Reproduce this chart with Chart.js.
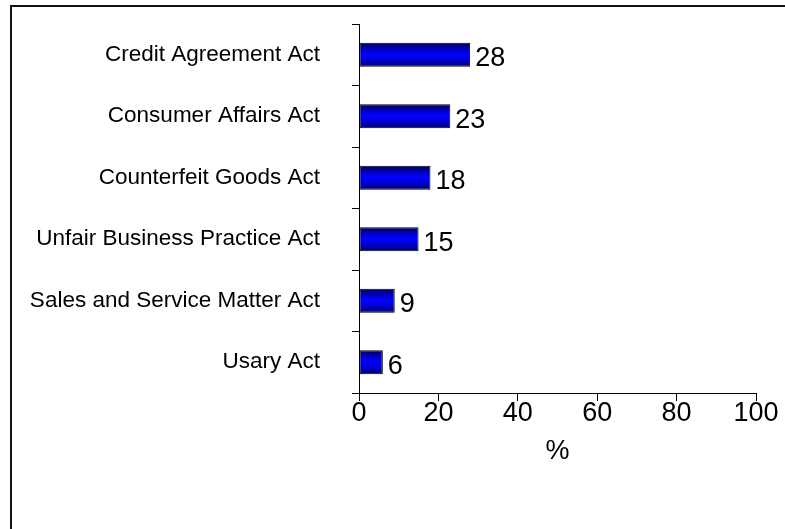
<!DOCTYPE html>
<html>
<head>
<meta charset="utf-8">
<script src="https://cdn.jsdelivr.net/npm/chart.js@4.4.1/dist/chart.umd.min.js"></script>
<style>
  html, body { margin: 0; padding: 0; background: #fff; overflow: hidden; }
  #wrap { position: relative; width: 785px; height: 529px; }
  #frame { position: absolute; left: 10px; top: 5px; width: 800px; height: 600px; border: 2px solid #111; }
  canvas { position: absolute; left: 0; top: 0; }
</style>
</head>
<body>
<div id="wrap">
  <div id="frame"></div>
  <canvas id="chart" width="785" height="529"></canvas>
</div>
<script>
const categories = ["Credit Agreement Act", "Consumer Affairs Act", "Counterfeit Goods Act", "Unfair Business Practice Act", "Sales and Service Matter Act", "Usary Act"];
const percentages = [28, 23, 18, 15, 9, 6];
const xTicks = [0, 20, 40, 60, 80, 100];

const FONT = '"Liberation Sans", Arial, sans-serif';
const barPct = 0.39;

// blue bars, dark at the edges and bright in the middle
function barFill(c) {
  const chart = c.chart;
  const area = chart.chartArea;
  const ys = chart.scales.y;
  if (!area || !ys || c.dataIndex === undefined) return '#0000ff';
  const cy = ys.getPixelForValue(c.dataIndex);
  const h = (area.bottom - area.top) / categories.length * barPct;
  const g = chart.ctx.createLinearGradient(0, cy - h / 2, 0, cy + h / 2);
  g.addColorStop(0, '#000060');
  g.addColorStop(0.45, '#0000ff');
  g.addColorStop(0.6, '#0000f0');
  g.addColorStop(1, '#000070');
  return g;
}

// numbers printed next to each bar
const valueLabels = {
  id: 'valueLabels',
  afterDatasetsDraw(chart) {
    const ctx = chart.ctx;
    const meta = chart.getDatasetMeta(0);
    ctx.save();
    ctx.font = '27px ' + FONT;
    ctx.fillStyle = '#000';
    ctx.textAlign = 'left';
    ctx.textBaseline = 'middle';
    meta.data.forEach((bar, i) => {
      ctx.fillText(String(percentages[i]), bar.x + 5, bar.y + 4);
    });
    ctx.restore();
  }
};

new Chart(document.getElementById('chart'), {
  type: 'bar',
  data: {
    labels: categories,
    datasets: [{
      data: percentages,
      backgroundColor: barFill,
      borderColor: '#000',
      borderWidth: 1,
      borderSkipped: false,
      barPercentage: barPct,
      categoryPercentage: 1
    }]
  },
  options: {
    indexAxis: 'y',
    responsive: false,
    animation: false,
    layout: { padding: { top: 24, right: 29, left: 0, bottom: 61 } },
    plugins: {
      legend: { display: false },
      tooltip: { enabled: false }
    },
    scales: {
      x: {
        min: 0,
        max: 100,
        afterFit(scale) {
          scale.height = 75;
          scale.paddingTop = 0;
          scale.paddingBottom = 0;
        },
        afterBuildTicks(scale) { scale.ticks = xTicks.map(v => ({ value: v })); },
        border: { color: '#000', width: 1 },
        grid: { drawOnChartArea: false, drawTicks: true, tickLength: 8, color: '#000' },
        ticks: { color: '#000', font: { size: 27, family: FONT }, padding: -4, maxRotation: 0 },
        title: { display: true, text: '%', color: '#000', font: { size: 27, family: FONT }, padding: { top: 2, bottom: 0 } }
      },
      y: {
        afterFit(scale) {
          scale.width = 359;
          scale.paddingTop = 0;
          scale.paddingBottom = 0;
        },
        border: { color: '#000', width: 1 },
        grid: { drawOnChartArea: false, offset: true, tickLength: 7, color: '#000' },
        ticks: { color: '#000', font: { size: 22.5, family: FONT }, padding: 32 }
      }
    }
  },
  plugins: [valueLabels]
});
</script>
</body>
</html>
